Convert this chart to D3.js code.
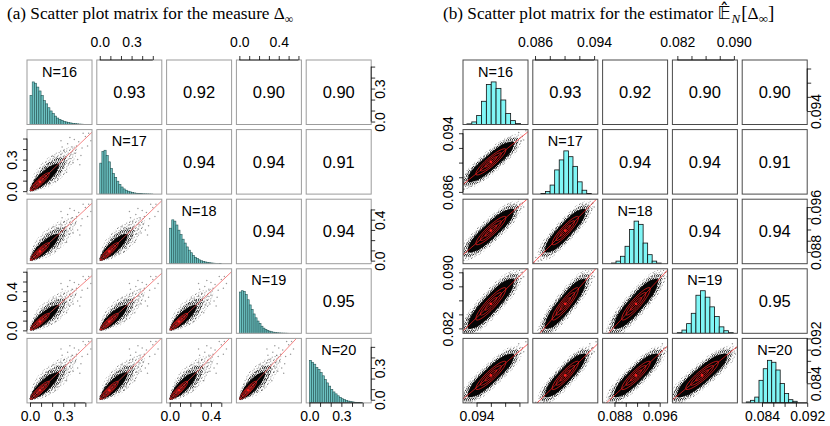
<!DOCTYPE html>
<html>
<head>
<meta charset="utf-8">
<script src="https://cdn.jsdelivr.net/npm/d3@7"></script>
<style>
  body { margin: 0; background: #fff; }
  svg { display: block; }
</style>
</head>
<body>
<svg id="chart" width="830" height="426"></svg>
<script>
// ---------- shared ----------
const varNames = ["N=16", "N=17", "N=18", "N=19", "N=20"];
// upper triangle, row by row
const corrUpper = [[0.93, 0.92, 0.90, 0.90], [0.94, 0.94, 0.91], [0.94, 0.94], [0.95]];

// ---------- (a) measure Delta_inf ----------
const domainsA = [[-0.027, 0.56], [-0.028, 0.585], [-0.03, 0.6], [-0.03, 0.63], [-0.03, 0.58]];
const ticksA = [
  [0, 0.1, 0.2, 0.3, 0.4, 0.5], [0, 0.1, 0.2, 0.3, 0.4, 0.5], [0, 0.1, 0.2, 0.3, 0.4, 0.5],
  [0, 0.1, 0.2, 0.3, 0.4, 0.5, 0.6], [0, 0.1, 0.2, 0.3, 0.4, 0.5]];
const tickLabelsA = [[0, 0.3], [0, 0.3], [0, 0.4], [0, 0.4], [0, 0.3]];
const histStartA = [0, 0, 0, 0, 0];
const histStepA = [0.02, 0.02, 0.02, 0.02, 0.02];
const histA = [
  [0.45, 0.66, 0.64, 0.58, 0.52, 0.45, 0.37, 0.32, 0.26, 0.21, 0.17, 0.13, 0.1, 0.08, 0.065, 0.05, 0.04, 0.03, 0.024, 0.018, 0.013, 0.01, 0.007, 0.005, 0.003],
  [0.48, 0.66, 0.68, 0.6, 0.5, 0.4, 0.32, 0.26, 0.2, 0.15, 0.11, 0.08, 0.06, 0.045, 0.035, 0.025, 0.018, 0.013, 0.01, 0.007, 0.005, 0.004, 0.003, 0.002, 0.001],
  [0.55, 0.68, 0.66, 0.6, 0.52, 0.45, 0.38, 0.32, 0.26, 0.21, 0.17, 0.13, 0.1, 0.08, 0.06, 0.045, 0.035, 0.027, 0.02, 0.015, 0.011, 0.008, 0.006, 0.004, 0.003],
  [0.64, 0.66, 0.65, 0.6, 0.52, 0.44, 0.37, 0.3, 0.24, 0.19, 0.15, 0.11, 0.08, 0.06, 0.045, 0.033, 0.024, 0.017, 0.012, 0.008, 0.006, 0.004, 0.003, 0.002, 0.001],
  [0.66, 0.63, 0.6, 0.55, 0.52, 0.47, 0.42, 0.36, 0.31, 0.26, 0.21, 0.17, 0.14, 0.11, 0.085, 0.065, 0.05, 0.038, 0.028, 0.02, 0.015, 0.01, 0.007, 0.005, 0.003]];
const meanA = [0.09, 0.09, 0.09, 0.09, 0.09];
const sdA = [0.04, 0.04, 0.04, 0.04, 0.04];
// point cloud outlines, data units
const coreA = [[0, 0], [0.075, 0.025], [0.135, 0.065], [0.195, 0.125], [0.245, 0.195], [0.26, 0.26],
  [0.195, 0.245], [0.125, 0.195], [0.065, 0.135], [0.025, 0.075]];
const innerA = [[0, 0], [0.095, 0.025], [0.18, 0.08], [0.255, 0.145], [0.31, 0.23], [0.32, 0.32],
  [0.23, 0.31], [0.145, 0.255], [0.08, 0.18], [0.025, 0.095]];
const haloA = [[0, 0], [0.09, 0.01], [0.19, 0.05], [0.28, 0.12], [0.35, 0.21], [0.4, 0.3], [0.42, 0.42],
  [0.3, 0.4], [0.21, 0.35], [0.12, 0.28], [0.05, 0.19], [0.01, 0.09]];
const outliersA = [[0.30, 0.24], [0.33, 0.29], [0.28, 0.35], [0.36, 0.31], [0.38, 0.42], [0.41, 0.36], [0.44, 0.47],
  [0.47, 0.41], [0.50, 0.52], [0.53, 0.55], [0.26, 0.30], [0.31, 0.38], [0.35, 0.26], [0.24, 0.32], [0.22, 0.14],
  [0.19, 0.27], [0.27, 0.19], [0.43, 0.30], [0.34, 0.45], [0.40, 0.49], [0.46, 0.34], [0.29, 0.42], [0.39, 0.27],
  [0.21, 0.33], [0.33, 0.18], [0.16, 0.26], [0.25, 0.12], [0.55, 0.48], [0.48, 0.55], [0.37, 0.35], [0.42, 0.43],
  [0.32, 0.33], [0.14, 0.22], [0.23, 0.09], [0.18, 0.07], [0.11, 0.21], [0.45, 0.25], [0.28, 0.48], [0.52, 0.43],
  [0.36, 0.51]];

// ---------- (b) estimator ----------
const domainsB = [[0.0921, 0.1012], [0.0857, 0.0945], [0.0859, 0.0974], [0.0813, 0.0905], [0.0805, 0.0920]];
const ticksB = [
  [0.094, 0.096, 0.098, 0.100], [0.086, 0.088, 0.090, 0.092, 0.094], [0.088, 0.090, 0.092, 0.094, 0.096],
  [0.082, 0.084, 0.086, 0.088, 0.090], [0.084, 0.086, 0.088, 0.090, 0.092]];
const tickLabelsB = [[0.094], [0.086, 0.094], [0.088, 0.096], [0.082, 0.090], [0.084, 0.092]];
const histStartB = [0.09265, 0.0868, 0.08747, 0.08199, 0.08122];
const histStepB = [0.00068, 0.00062, 0.0008, 0.00066, 0.00075];
const histB = [
  [0.01, 0.04, 0.14, 0.36, 0.62, 0.66, 0.56, 0.38, 0.17, 0.06, 0.015],
  [0.01, 0.04, 0.14, 0.375, 0.53, 0.67, 0.58, 0.43, 0.19, 0.06, 0.01],
  [0.01, 0.04, 0.115, 0.27, 0.53, 0.66, 0.61, 0.32, 0.14, 0.04, 0.01],
  [0.01, 0.05, 0.15, 0.31, 0.59, 0.66, 0.56, 0.41, 0.26, 0.1, 0.04, 0.01],
  [0.015, 0.04, 0.09, 0.35, 0.53, 0.66, 0.63, 0.51, 0.3, 0.145, 0.05, 0.025]];
const meanB = [0.0960, 0.0901, 0.0918, 0.0855, 0.0854];
const sdB = [0.00100, 0.00085, 0.00120, 0.00110, 0.00120];
// point cloud outlines, z units
const coreB = [[-3.2, -3.2], [-2.0, -3.0], [-0.8, -2.2], [0.75, -0.75], [2.2, 0.8], [3.0, 2.0], [3.2, 3.2],
  [2.0, 3.0], [0.8, 2.2], [-0.75, 0.75], [-2.2, -0.8], [-3.0, -2.0]];
const innerB = [[-3.8, -3.8], [-2.35, -3.65], [-0.6, -2.4], [0.95, -0.95], [2.4, 0.6], [3.65, 2.35], [3.8, 3.8],
  [2.35, 3.65], [0.6, 2.4], [-0.95, 0.95], [-2.4, -0.6], [-3.65, -2.35]];
const haloB = [[-4.3, -4.3], [-2.6, -4.2], [-0.6, -2.8], [1.15, -1.15], [2.8, 0.6], [4.2, 2.6], [4.3, 4.3],
  [2.6, 4.2], [0.6, 2.8], [-1.15, 1.15], [-2.8, -0.6], [-4.2, -2.6]];
const outliersB = [[4.4, 4.1], [-4.3, -4.5], [3.9, 4.7], [-4.0, -3.2], [4.6, 3.5], [-4.7, -4.0], [2.7, 3.9],
  [-2.9, -3.9], [3.4, 2.1], [-3.2, -2.0], [4.9, 5.0], [-5.0, -4.7], [1.1, 2.3], [-1.2, -2.4], [2.5, 1.0],
  [-2.3, -0.9], [0.3, 1.6], [-0.4, -1.7], [1.8, 0.2], [-1.7, -0.2], [3.6, 3.0], [-3.5, -3.6], [4.2, 3.3], [-3.8, -4.4]];

// red density ellipse (z units) and its levels
const ellipseZ = [[1.8, 1.8], [1.55, 0.99], [0.4, -0.4], [-0.99, -1.55], [-1.8, -1.8],
  [-1.55, -0.99], [-0.4, 0.4], [0.99, 1.55]];
const ellipseLevels = [0.45, 0.8, 1.15];

// ---------- layout ----------
const W = 65, H = 64.5, PX = 69.8, PY = 69.6, TOP = 60;
const SANS = "'Liberation Sans', Arial, Helvetica, sans-serif";
const SERIF = "'Liberation Serif', 'Times New Roman', serif";

const svg = d3.select("#chart");
const defs = svg.append("defs");

function dotPattern(id, size, dots, color, r) {
  const p = defs.append("pattern").attr("id", id)
    .attr("width", size).attr("height", size).attr("patternUnits", "userSpaceOnUse");
  p.selectAll("circle").data(dots).join("circle")
    .attr("cx", d => d[0]).attr("cy", d => d[1]).attr("r", r).attr("fill", color);
}
dotPattern("sparse", 6, [[0.7, 1.1], [3.6, 0.4], [2.2, 3.1], [5.1, 2.6], [0.9, 4.8], [4.2, 5.2]], "rgba(0,0,0,0.5)", 0.55);
dotPattern("dense", 4, [[0.6, 0.8], [2.7, 0.3], [1.6, 2.4], [3.5, 2.1], [0.4, 3.4], [2.6, 3.7]], "rgba(0,0,0,0.8)", 0.6);

const matrices = [
  { left: 27, domains: domainsA, ticks: ticksA, tickLabels: tickLabelsA, fmt: ".1f",
    histStart: histStartA, histStep: histStepA, hist: histA, mean: meanA, sd: sdA,
    core: coreA, inner: innerA, halo: haloA, outliers: outliersA, zShapes: false,
    frame: "#9c9c9c", histFill: "#6cc2c2", histStroke: "#245454", histStrokeW: 0.6, lineColor: "#f05050" },
  { left: 463, domains: domainsB, ticks: ticksB, tickLabels: tickLabelsB, fmt: ".3f",
    histStart: histStartB, histStep: histStepB, hist: histB, mean: meanB, sd: sdB,
    core: coreB, inner: innerB, halo: haloB, outliers: outliersB, zShapes: true,
    frame: "#4a4a4a", histFill: "#80f6f6", histStroke: "#111", histStrokeW: 0.8, lineColor: "#ff2020" }
];

let clipId = 0;

function drawMatrix(m) {
  const g = svg.append("g");
  const colX = i => m.left + i * PX;
  const rowY = i => TOP + i * PY;
  const xs = m.domains.map((d, i) => d3.scaleLinear().domain(d).range([colX(i), colX(i) + W]));
  const ys = m.domains.map((d, i) => d3.scaleLinear().domain(d).range([rowY(i) + H, rowY(i)]));
  const toData = (i, v) => m.zShapes ? m.mean[i] + v * m.sd[i] : v;
  const fromZ = (i, z) => m.mean[i] + z * m.sd[i];

  for (let r = 0; r < 5; r++) {
    for (let c = 0; c < 5; c++) {
      const x0 = colX(c), y0 = rowY(r);
      const id = "clip" + (clipId++);
      defs.append("clipPath").attr("id", id)
        .append("rect").attr("x", x0).attr("y", y0).attr("width", W).attr("height", H);
      const p = g.append("g").attr("clip-path", `url(#${id})`);

      if (r === c) {
        const bins = m.hist[c].map((h, k) => ({
          x0: m.histStart[c] + k * m.histStep[c], x1: m.histStart[c] + (k + 1) * m.histStep[c], h }));
        const hy = d3.scaleLinear().domain([0, 1]).range([y0 + H, y0]);
        p.selectAll("rect").data(bins).join("rect")
          .attr("x", d => xs[c](d.x0)).attr("width", d => xs[c](d.x1) - xs[c](d.x0))
          .attr("y", d => hy(d.h)).attr("height", d => hy(0) - hy(d.h))
          .attr("fill", m.histFill).attr("stroke", m.histStroke).attr("stroke-width", m.histStrokeW);
        g.append("text").attr("x", x0 + W / 2).attr("y", y0 + 16.5)
          .attr("text-anchor", "middle").attr("font-family", SANS).attr("font-size", 14.5)
          .text(varNames[c]);
      } else if (r > c) {
        const rho = corrUpper[c][r - c - 1];
        const X = v => xs[c](toData(c, v)), Y = v => ys[r](toData(r, v));
        const blob = d3.line().x(d => X(d[0])).y(d => Y(d[1])).curve(d3.curveCatmullRomClosed.alpha(0.5));
        p.append("path").attr("d", blob(m.halo)).attr("fill", "url(#sparse)");
        p.append("path").attr("d", blob(m.inner)).attr("fill", "url(#dense)");
        p.append("path").attr("d", blob(m.core)).attr("fill", "#050505");
        p.selectAll("circle.out").data(m.outliers).join("circle").attr("class", "out")
          .attr("cx", d => X(d[0])).attr("cy", d => Y(d[1])).attr("r", 0.75)
          .attr("fill", "rgba(0,0,0,0.4)");
        // fitted line
        const fit = m.zShapes
          ? [[fromZ(c, -7), fromZ(r, -7 * rho)], [fromZ(c, 7), fromZ(r, 7 * rho)]]
          : [[0, 0], [0.7, 0.7]];
        p.append("path").attr("d", d3.line().x(d => xs[c](d[0])).y(d => ys[r](d[1]))(fit))
          .attr("fill", "none").attr("stroke", m.lineColor).attr("stroke-width", 0.7);
        // density ellipses
        const ell = d3.line().curve(d3.curveCardinalClosed);
        ellipseLevels.forEach(lv => {
          p.append("path")
            .attr("d", ell(ellipseZ.map(e => [xs[c](fromZ(c, e[0] * lv)), ys[r](fromZ(r, e[1] * lv))])))
            .attr("fill", "none").attr("stroke", "#ff2020").attr("stroke-width", 0.7);
        });
        p.append("circle").attr("cx", xs[c](m.mean[c])).attr("cy", ys[r](m.mean[r]))
          .attr("r", 1.3).attr("fill", "#ff2020");
      } else {
        g.append("text").attr("x", x0 + W / 2).attr("y", y0 + H / 2 + 6)
          .attr("text-anchor", "middle").attr("font-family", SANS).attr("font-size", 16.5)
          .text(d3.format(".2f")(corrUpper[r][c - r - 1]));
      }
      g.append("rect").attr("x", x0).attr("y", y0).attr("width", W).attr("height", H)
        .attr("fill", "none").attr("stroke", m.frame).attr("stroke-width", 1);
    }
  }

  // axes, R pairs style: alternate sides
  for (let i = 0; i < 5; i++) {
    if (i % 2 === 1) {
      drawAxis(g, m, i, "top", xs[i], TOP);
      drawAxis(g, m, i, "left", ys[i], m.left);
    } else {
      drawAxis(g, m, i, "bottom", xs[i], rowY(4) + H);
      drawAxis(g, m, i, "right", ys[i], colX(4) + W);
    }
  }
}

function drawAxis(g, m, i, side, scale, pos) {
  const fmt = d3.format(m.fmt);
  const isLab = v => m.tickLabels[i].some(l => Math.abs(l - v) < 1e-9);
  const mk = { top: d3.axisTop, bottom: d3.axisBottom, left: d3.axisLeft, right: d3.axisRight }[side];
  const axis = mk(scale).tickValues(m.ticks[i]).tickSize(4).tickSizeOuter(0)
    .tickFormat(v => isLab(v) ? fmt(v) : "");
  const horiz = side === "top" || side === "bottom";
  const ag = g.append("g")
    .attr("transform", horiz ? `translate(0,${pos})` : `translate(${pos},0)`)
    .call(axis)
    .attr("font-family", SANS).attr("font-size", 14);
  ag.select(".domain").remove();
  ag.selectAll(".tick line").attr("stroke-width", 0.8);
  const t = m.ticks[i];
  const a = scale(t[0]), b = scale(t[t.length - 1]);
  ag.append("line").attr("stroke", "#000").attr("stroke-width", 0.8)
    .attr(horiz ? "x1" : "y1", a).attr(horiz ? "x2" : "y2", b)
    .attr(horiz ? "y1" : "x1", 0).attr(horiz ? "y2" : "x2", 0);
  const txt = ag.selectAll(".tick text").attr("fill", "#000");
  if (side === "top") txt.attr("y", -13).attr("dy", 0);
  if (side === "bottom") txt.attr("y", 18).attr("dy", 0);
  if (side === "left") txt.attr("x", 0).attr("dy", 0).attr("text-anchor", "middle")
    .attr("transform", "translate(-10,0) rotate(-90)");
  if (side === "right") txt.attr("x", 0).attr("dy", 0).attr("text-anchor", "middle")
    .attr("transform", "translate(14,0) rotate(-90)");
}

matrices.forEach(drawMatrix);

// ---------- titles ----------
const ta = svg.append("text").attr("x", 7).attr("y", 19)
  .attr("font-family", SERIF).attr("font-size", 17.2);
ta.append("tspan").text("(a) Scatter plot matrix for the measure \u0394");
ta.append("tspan").attr("font-size", 12).attr("dy", 4).text("\u221e");

const tb = svg.append("text").attr("x", 443).attr("y", 19)
  .attr("font-family", SERIF).attr("font-size", 17.2);
tb.append("tspan").text("(b) Scatter plot matrix for the estimator ");
// blackboard E with a combining hat
tb.append("tspan").attr("font-family", "'DejaVu Sans', 'DejaVu Serif', serif")
  .attr("font-size", 18).text("\u{1D53C}\u0302");
tb.append("tspan").attr("font-size", 13).attr("font-style", "italic").attr("dx", 1).attr("dy", 4).text("N");
tb.append("tspan").attr("font-size", 19).attr("dx", 1).attr("dy", -4).text("[");
tb.append("tspan").text("\u0394");
tb.append("tspan").attr("font-size", 13).attr("dy", 4).text("\u221e");
tb.append("tspan").attr("font-size", 19).attr("dy", -4).text("]");
</script>
</body>
</html>
